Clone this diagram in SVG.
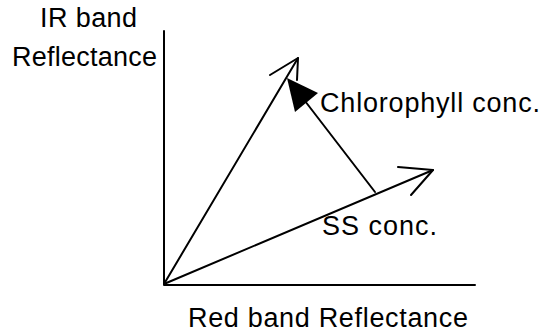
<svg xmlns="http://www.w3.org/2000/svg" width="549" height="333" viewBox="0 0 549 333">
<style>
.ln{stroke:#000;stroke-width:2;fill:none;stroke-linecap:round;stroke-linejoin:round}
.t{font-family:"Liberation Sans",Arial,sans-serif;font-size:27px;fill:#000}
</style>
<rect width="549" height="333" fill="#fff"/>
<g id="axes">
<polyline class="ln" points="164,31 164,285 475,285"/>
</g>
<g id="labels">
<text class="t" x="40" y="27" textLength="97" lengthAdjust="spacing">IR band</text>
<text class="t" x="12" y="66" textLength="145" lengthAdjust="spacing">Reflectance</text>
<text class="t" x="188" y="327" textLength="280" lengthAdjust="spacing">Red band Reflectance</text>
</g>
<g id="connectors">
<line class="ln" x1="164" y1="284" x2="298" y2="58"/>
<polyline class="ln" points="270,75 298,58 297,80"/>
<line class="ln" x1="164" y1="284" x2="433" y2="170"/>
<polyline class="ln" points="398,167 433,170 411,195"/>
<line class="ln" x1="375" y1="192" x2="305" y2="101"/>
<polygon points="287,78 318,93 295,112" fill="#000"/>
</g>
<g id="chl">
<text class="t" x="320" y="112" textLength="220" lengthAdjust="spacing">Chlorophyll conc.</text>
</g>
<g id="ss">
<text class="t" x="322" y="235" textLength="115" lengthAdjust="spacing">SS conc.</text>
</g>
</svg>
